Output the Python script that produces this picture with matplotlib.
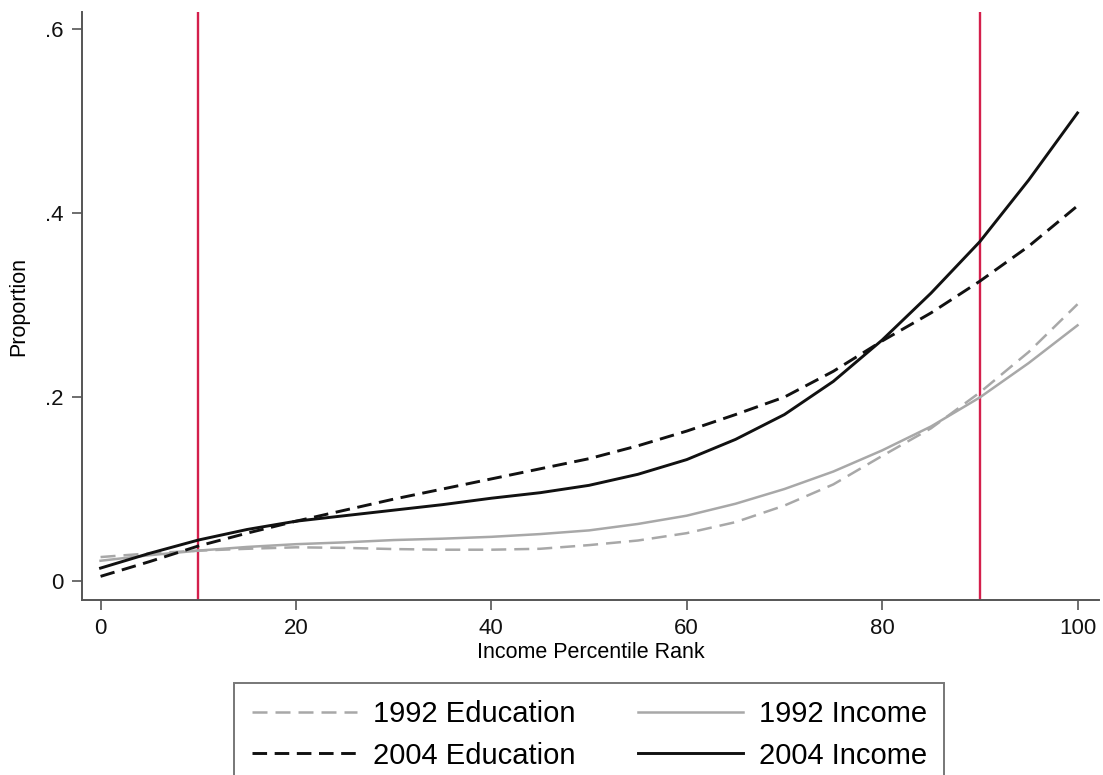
import matplotlib
matplotlib.use("Agg")
import matplotlib.pyplot as plt

plt.rcParams['font.family'] = ['Liberation Sans', 'DejaVu Sans']

# Income percentile rank
pct = [0, 5, 10, 15, 20, 25, 30, 35, 40, 45, 50, 55, 60, 65, 70, 75, 80, 85, 90, 95, 100]

edu_1992 = [0.026, 0.030, 0.033, 0.035, 0.0366, 0.036, 0.0347, 0.034, 0.034, 0.035, 0.039,
            0.044, 0.052, 0.064, 0.082, 0.105, 0.136, 0.166, 0.205, 0.249, 0.301]
inc_1992 = [0.022, 0.028, 0.033, 0.037, 0.040, 0.042, 0.0445, 0.046, 0.048, 0.051, 0.055,
            0.062, 0.071, 0.084, 0.100, 0.119, 0.142, 0.168, 0.1996, 0.237, 0.278]
edu_2004 = [0.005, 0.021, 0.038, 0.052, 0.065, 0.077, 0.089, 0.100, 0.111, 0.122, 0.133,
            0.147, 0.163, 0.181, 0.200, 0.228, 0.261, 0.2915, 0.326, 0.364, 0.408]
inc_2004 = [0.014, 0.030, 0.0445, 0.056, 0.065, 0.071, 0.077, 0.083, 0.090, 0.096, 0.104,
            0.116, 0.132, 0.154, 0.181, 0.217, 0.262, 0.313, 0.369, 0.436, 0.509]

cutoffs = [10, 90]
xticks = [0, 20, 40, 60, 80, 100]
yticks = [0, 0.2, 0.4, 0.6]
ytick_labels = ["0", ".2", ".4", ".6"]

GRAY = "#a8a8a8"
BLACK = "#111111"
RED = "#d41f4c"
AXC = "#555555"

fig = plt.figure(figsize=(11.03, 7.75), dpi=100)
ax = fig.add_axes([82/1103, 175/775, 1017/1103, 588/775])

for c in cutoffs:
    ax.axvline(c, color=RED, lw=1.7, zorder=1)

l1, = ax.plot(pct, edu_1992, color=GRAY, lw=1.8, dashes=(6, 3.2), label="1992 Education", zorder=3)
l2, = ax.plot(pct, inc_1992, color=GRAY, lw=1.8, label="1992 Income", zorder=3)
l3, = ax.plot(pct, edu_2004, color=BLACK, lw=2.1, dashes=(5, 2.6), label="2004 Education", zorder=4)
l4, = ax.plot(pct, inc_2004, color=BLACK, lw=2.1, label="2004 Income", zorder=4)

ax.set_xlim(-1.9, 102.2)
ax.set_ylim(-0.0207, 0.6188)
ax.set_xticks(xticks)
ax.set_yticks(yticks)
ax.set_yticklabels(ytick_labels)

for s in ["top", "right"]:
    ax.spines[s].set_visible(False)
for s in ["left", "bottom"]:
    ax.spines[s].set_color(AXC)
    ax.spines[s].set_linewidth(1.4)

ax.tick_params(axis="both", direction="out", length=7, width=1.2, color=AXC,
               labelsize=16, pad=6, labelcolor="#111111")

ax.set_xlabel("Income Percentile Rank", fontsize=15.5, labelpad=2)
ax.set_ylabel("Proportion", fontsize=15.5, labelpad=12)

leg = fig.legend(handles=[l1, l3, l2, l4], ncol=2, loc="upper left",
                 bbox_to_anchor=(234/1103, 92/775), fontsize=21,
                 frameon=True, fancybox=False, edgecolor=AXC,
                 handlelength=3.6, handletextpad=0.55, columnspacing=2.15,
                 labelspacing=0.45, borderpad=0.6, borderaxespad=0)
leg.get_frame().set_linewidth(1.4)

fig.savefig("out.png", dpi=100)
